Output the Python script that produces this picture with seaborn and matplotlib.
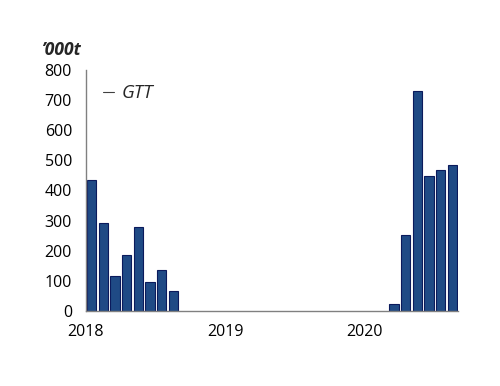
import pandas as pd
import seaborn as sns
import matplotlib.pyplot as plt
from matplotlib.lines import Line2D

# Monthly GTT volumes, Jan 2018 - Aug 2020 ('000t)
months = pd.period_range('2018-01', '2020-08', freq='M').astype(str)
values = [435, 293, 116, 186, 279, 96, 138, 66,
          0, 0, 0, 0,
          0, 0, 0, 0, 0, 0, 0, 0, 0, 0, 0, 0,
          0, 0, 23, 252, 731, 449, 469, 485]
year_ticks = [0, 12, 24]
year_labels = ['2018', '2019', '2020']

df = pd.DataFrame({'Month': months, 'Volume': values})
df['pos'] = [i + 0.5 for i in range(len(df))]
# zero months have no visible bar (avoid edge lines on the baseline)
plot_df = df[df['Volume'] > 0]

sns.set_style('white')
plt.rcParams['font.family'] = ['Open Sans', 'DejaVu Sans']

fig, ax = plt.subplots(figsize=(5, 3.86), dpi=100)
fig.subplots_adjust(left=0.172, right=0.916, top=0.819, bottom=0.194)

sns.barplot(data=plot_df, x='pos', y='Volume', native_scale=True, width=0.8,
            color='#1f4a85', edgecolor='#0b1a5c', linewidth=0.8,
            saturation=1, ax=ax)

ax.set_xlim(0, 32)
ax.set_ylim(0, 800)
ax.set_yticks(range(0, 801, 100))
ax.set_xticks(range(0, 33, 3))
ax.set_xticklabels([year_labels[year_ticks.index(t)] if t in year_ticks else ''
                    for t in range(0, 33, 3)])

for side in ['top', 'right']:
    ax.spines[side].set_visible(False)
for side in ['left', 'bottom']:
    ax.spines[side].set_color('#808080')
    ax.spines[side].set_linewidth(1.0)

ax.tick_params(axis='both', which='both', direction='out', length=4,
               width=1, color='#808080', labelsize=11.5, labelcolor='black')
ax.tick_params(axis='x', pad=5)
ax.tick_params(axis='y', pad=6)
ax.set_xlabel('')
ax.set_ylabel('')

fig.text(0.082, 0.846, '\u2019000t', fontsize=12.5, fontweight='bold',
         fontstyle='italic', ha='left', va='bottom')

handle = Line2D([], [], color='#404040', linewidth=0.8)
ax.legend([handle], ['GTT'], loc='upper left', bbox_to_anchor=(0.0, 1.01),
          frameon=False, handlelength=0.6, handletextpad=0.4,
          prop={'style': 'italic', 'size': 13.5})

plt.savefig('out.png', dpi=100)
plt.close()
